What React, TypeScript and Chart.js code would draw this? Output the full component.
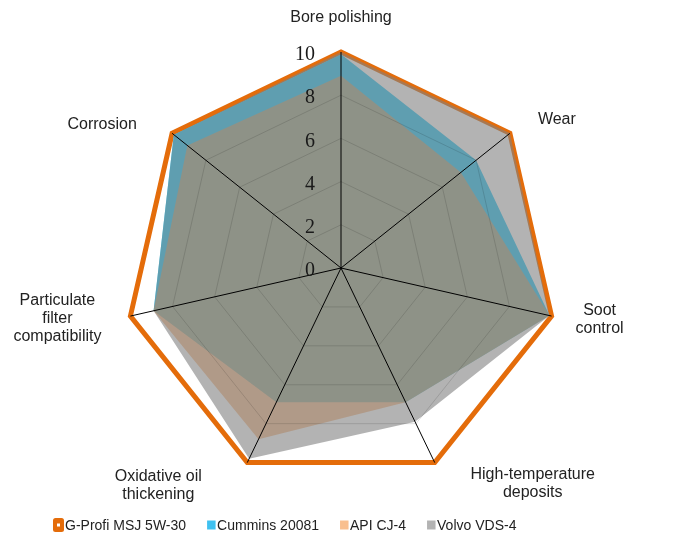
import React, { useEffect, useRef } from "react";
import { Chart, registerables } from "chart.js";

Chart.register(...registerables);

// ---- data ----
const CATEGORIES: string[][] = [
  ["Bore polishing"],
  ["Wear"],
  ["Soot", "control"],
  ["High-temperature", "deposits"],
  ["Oxidative oil", "thickening"],
  ["Particulate", "filter", "compatibility"],
  ["Corrosion"],
];
const SERIES_NAMES = ["G-Profi MSJ 5W-30", "Cummins 20081", "API CJ-4", "Volvo VDS-4"];
const GPROFI = [10, 10, 10, 10, 10, 10, 10];
const CUMMINS = [9.9, 8.0, 9.9, 6.9, 6.9, 8.9, 9.9];
const API_CJ4 = [8.9, 7.1, 9.9, 6.9, 8.8, 8.9, 9.1];
const VOLVO = [10, 10, 9.9, 7.9, 9.8, 8.9, 9.9];
const TICK_VALUES = [0, 2, 4, 6, 8, 10];

// ---- styling / layout ----
const ORANGE = "#E46C0A";
const LEGEND_COLORS = [ORANGE, "#3FC1F0", "#F9BF8F", "#B3B3B3"];
// label anchor offsets (baseline of first line) from the axis end point
const LABEL_OFFSETS: [number, number][] = [
  [0, -30],
  [47, -9],
  [48, -1],
  [98, 16],
  [-89, 18],
  [-73, -11],
  [-70, -4],
];
const LINE_H = 18;

const textPlugin = {
  id: "customText",
  afterDraw(chart: any) {
    const ctx: CanvasRenderingContext2D = chart.ctx;
    const scale = chart.scales.r;
    ctx.save();
    // tick labels
    ctx.font = '20px "Liberation Serif", "Times New Roman", serif';
    ctx.fillStyle = "#1a1a1a";
    ctx.textAlign = "right";
    ctx.textBaseline = "middle";
    TICK_VALUES.forEach((v) => {
      const d = scale.getDistanceFromCenterForValue(v);
      ctx.fillText(String(v), scale.xCenter - 26, scale.yCenter - d + 3);
    });
    // point labels
    ctx.font = '16px "Liberation Sans", Arial, sans-serif';
    ctx.fillStyle = "#222";
    ctx.textAlign = "center";
    ctx.textBaseline = "alphabetic";
    CATEGORIES.forEach((lines, i) => {
      const p = scale.getPointPosition(i, scale.drawingArea);
      const [ox, oy] = LABEL_OFFSETS[i];
      lines.forEach((ln, k) => {
        ctx.fillText(ln, p.x + ox, p.y + oy + k * LINE_H);
      });
    });
    // legend
    ctx.font = '14px "Liberation Sans", Arial, sans-serif';
    ctx.textAlign = "left";
    let x = 53;
    const yc = 525;
    SERIES_NAMES.forEach((name, i) => {
      if (i === 0) {
        ctx.fillStyle = LEGEND_COLORS[i];
        ctx.beginPath();
        (ctx as any).roundRect(x, yc - 7, 11, 14, 2.5);
        ctx.fill();
        ctx.fillStyle = "#fff";
        ctx.fillRect(x + 4, yc - 1.5, 3, 3);
        x += 12;
      } else {
        ctx.fillStyle = LEGEND_COLORS[i];
        ctx.fillRect(x, yc - 4.5, 8.5, 9);
        x += 10;
      }
      ctx.fillStyle = "#222";
      ctx.fillText(name, x, yc + 5);
      x += ctx.measureText(name).width + 21;
    });
    ctx.restore();
  },
};

export default function App() {
  const ref = useRef<HTMLCanvasElement | null>(null);
  useEffect(() => {
    if (!ref.current) return;
    const chart = new Chart(ref.current, {
      type: "radar",
      data: {
        labels: CATEGORIES,
        datasets: [
          {
            label: SERIES_NAMES[0],
            data: GPROFI,
            borderColor: ORANGE,
            borderWidth: 5,
            backgroundColor: "rgba(0,0,0,0)",
            fill: false,
            pointRadius: 0,
            order: 3,
          },
          {
            label: SERIES_NAMES[1],
            data: CUMMINS,
            borderColor: "rgba(0,0,0,0)",
            borderWidth: 0,
            backgroundColor: "rgb(46,203,248)",
            fill: true,
            pointRadius: 0,
            order: 2,
          },
          {
            label: SERIES_NAMES[2],
            data: API_CJ4,
            borderColor: "rgba(0,0,0,0)",
            borderWidth: 0,
            backgroundColor: "rgba(243,152,77,0.6)",
            fill: true,
            pointRadius: 0,
            order: 1,
          },
          {
            label: SERIES_NAMES[3],
            data: VOLVO,
            borderColor: "rgba(0,0,0,0)",
            borderWidth: 0,
            backgroundColor: "rgba(128,128,128,0.6)",
            fill: true,
            pointRadius: 0,
            order: 0,
          },
        ],
      },
      options: {
        responsive: false,
        animation: false,
        devicePixelRatio: 1,
        layout: { padding: { left: 125, top: 52, right: 139, bottom: 54 } },
        plugins: { legend: { display: false }, tooltip: { enabled: false } },
        elements: { line: { tension: 0 } },
        scales: {
          r: {
            min: 0,
            max: 10,
            ticks: { display: false, stepSize: 2 },
            pointLabels: { display: false },
            grid: {
              z: 1,
              color: (c: any) =>
                c.tick && c.tick.value >= 10 ? "rgba(0,0,0,0)" : "rgba(0,0,0,0.13)",
              lineWidth: 1,
            },
            angleLines: { color: "#000", lineWidth: 1 },
          },
        },
      },
      plugins: [textPlugin],
    });
    return () => chart.destroy();
  }, []);
  return (
    <div style={{ position: "absolute", left: 0, top: 0, width: 696, height: 538, background: "#fff" }}>
      <canvas ref={ref} width={696} height={538} />
    </div>
  );
}
